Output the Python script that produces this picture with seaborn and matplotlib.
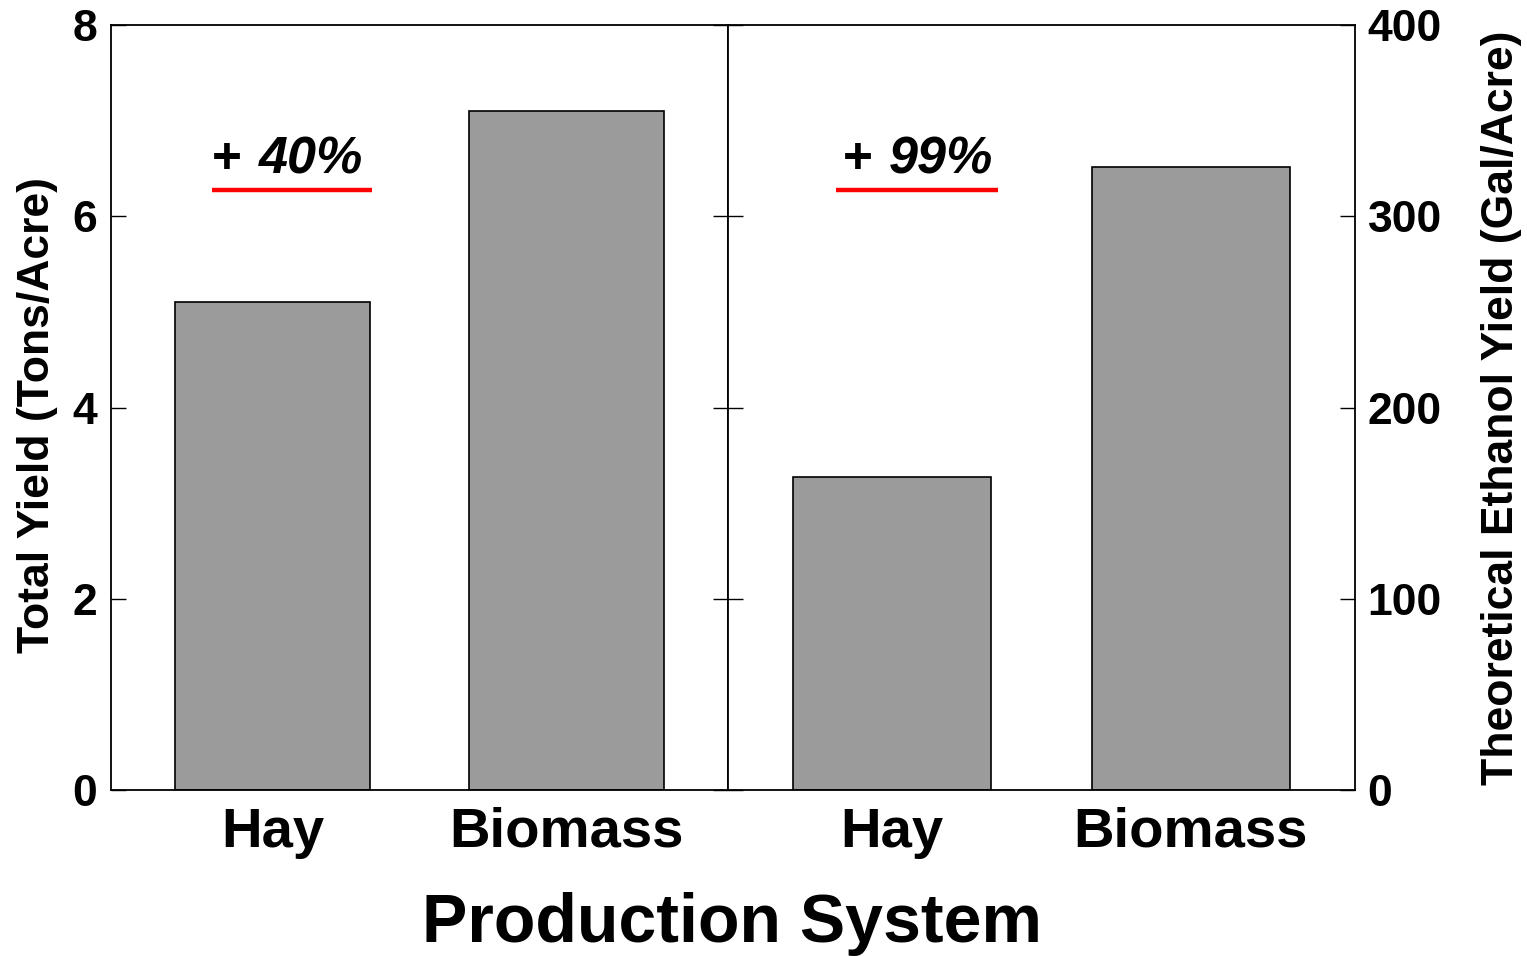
import matplotlib
matplotlib.use("Agg")
import matplotlib.pyplot as plt
import seaborn as sns
import pandas as pd

sns.set_theme(style="white")
plt.rcParams['font.family'] = ['Liberation Sans', 'DejaVu Sans']
plt.rcParams['font.weight'] = 'bold'
plt.rcParams['text.color'] = 'black'
plt.rcParams['axes.labelcolor'] = 'black'
plt.rcParams['xtick.color'] = 'black'
plt.rcParams['ytick.color'] = 'black'

categories = ["Hay", "Biomass"]
total_yield = [5.1, 7.1]          # Tons/Acre
ethanol_yield = [163.5, 326.0]    # Gal/Acre
left_ticks = [0, 2, 4, 6, 8]
right_ticks = [0, 100, 200, 300, 400]
pct_left = "40%"
pct_right = "99%"

W, H = 1527, 956
fig = plt.figure(figsize=(W / 100, H / 100), dpi=100)
axL = fig.add_axes([111 / W, (H - 790) / H, 617 / W, 765 / H])
axR = fig.add_axes([728 / W, (H - 790) / H, 627 / W, 765 / H])

df_l = pd.DataFrame({"cat": categories, "val": total_yield})
df_r = pd.DataFrame({"cat": categories, "val": ethanol_yield})

for ax, df in ((axL, df_l), (axR, df_r)):
    sns.barplot(data=df, x="cat", y="val", ax=ax, color="#9b9b9b",
                saturation=1, width=0.665, edgecolor="black", linewidth=1.2)
    ax.set_xlim(-0.55, 1.55)
    ax.set_xlabel("")
    ax.set_ylabel("")
    for s in ax.spines.values():
        s.set_visible(True)
        s.set_color("black")
        s.set_linewidth(1.3)
    ax.tick_params(axis="x", length=0, pad=12, labelsize=40.5, labelcolor="black")
    for t in ax.get_xticklabels():
        t.set_fontweight("bold")

axL.set_ylim(0, 8)
axL.set_yticks(left_ticks)
axL.tick_params(axis="y", direction="in", length=11, width=1, left=True, right=True,
                labelleft=True, labelright=False, labelsize=32, pad=10, labelcolor="black")
axL.set_ylabel("Total Yield (Tons/Acre)", fontsize=32, fontweight="bold", labelpad=10,
               color="black")
axL.yaxis.label.set_y(0.49)

axR.set_ylim(0, 400)
axR.set_yticks(right_ticks)
axR.tick_params(axis="y", direction="in", length=11, width=1, left=True, right=True,
                labelleft=False, labelright=True, labelsize=32, pad=9, labelcolor="black")
axR.yaxis.set_label_position("right")
axR.set_ylabel("Theoretical Ethanol Yield (Gal/Acre)", fontsize=32, fontweight="bold",
               labelpad=28, color="black")
for ax in (axL, axR):
    for t in ax.get_yticklabels():
        t.set_fontweight("bold")

# annotations: "+ xx%" with red underline (positions in axes fraction)
annots = [(axL, pct_left, 0.164, 0.423, 0.164, 0.239),
          (axR, pct_right, 0.173, 0.430, 0.183, 0.257)]
for ax, pct, x0, x1, xp, xt in annots:
    ax.plot([x0, x1], [0.784, 0.784], transform=ax.transAxes, color="#ff0000",
            lw=3.2, solid_capstyle="butt")
    ax.text(xp, 0.806, "+", transform=ax.transAxes, ha="left", va="baseline",
            fontsize=37, fontweight="bold", color="black")
    ax.text(xt, 0.806, pct, transform=ax.transAxes, ha="left", va="baseline",
            fontsize=37.5, fontweight="bold", fontstyle="italic", color="black")

fig.text(732 / W, 1 - 942 / H, "Production System", ha="center", va="baseline",
         fontsize=49, fontweight="bold", color="black")

fig.savefig("out.png", dpi=100)
